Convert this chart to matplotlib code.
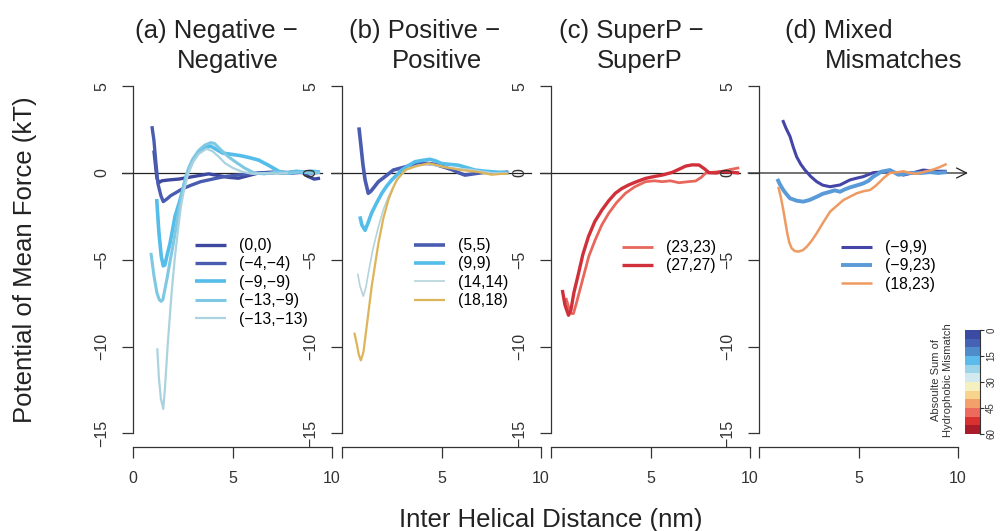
import numpy as np
import matplotlib
matplotlib.use("Agg")
import matplotlib.pyplot as plt
from matplotlib.colors import ListedColormap, BoundaryNorm

plt.rcParams['font.family'] = ['Liberation Sans', 'DejaVu Sans']

# ---------------- data ----------------
# (a) Negative - Negative
a_labels = ["(0,0)", "(\u22124,\u22124)", "(\u22129,\u22129)", "(\u221213,\u22129)", "(\u221213,\u221213)"]
a_colors = ["#3D49A0", "#4A5CB0", "#55BDE9", "#7EC8E3", "#ABD3DF"]
a_widths = [2.4, 2.4, 2.6, 2.2, 1.6]
a_00_x = [1.05, 1.2, 1.3, 1.45, 1.8, 2.3, 2.8, 3.3, 3.8, 4.3, 4.8, 5.3, 5.8, 6.3, 7.0, 7.5, 8.0, 8.5, 8.8, 9.1, 9.4]
a_00_y = [1.3, -0.3, -0.55, -0.45, -0.4, -0.35, -0.25, -0.15, -0.05, -0.15, -0.25, -0.3, -0.15, 0.0, 0.05, 0.0, 0.05, 0.05, -0.2, -0.35, -0.3]
a_44_x = [0.95, 1.05, 1.15, 1.25, 1.4, 1.52, 1.7, 1.9, 2.1, 2.5, 2.95, 3.4, 3.8, 4.2, 4.6, 5.0, 5.4, 5.8, 6.3, 7.0, 7.5, 8.0, 8.5, 9.0, 9.4]
a_44_y = [2.7, 1.9, 0.6, -0.6, -1.3, -1.65, -1.5, -1.3, -1.17, -0.9, -0.69, -0.5, -0.4, -0.3, -0.21, -0.15, -0.1, -0.05, 0.0, 0.0, 0.05, 0.0, 0.05, 0.0, 0.05]
a_99_x = [1.19, 1.3, 1.42, 1.52, 1.6, 1.72, 1.86, 2.0, 2.11, 2.3, 2.45, 2.7, 3.0, 3.3, 3.6, 3.9, 4.2, 4.5, 4.8, 5.1, 5.4, 5.8, 6.3, 6.8, 7.1, 7.4, 7.8, 8.2, 8.6, 9.0, 9.4]
a_99_y = [-1.5, -3.4, -4.8, -5.35, -5.3, -4.7, -4.05, -3.2, -2.5, -1.8, -1.2, -0.1, 0.7, 1.2, 1.45, 1.55, 1.35, 1.15, 1.1, 1.05, 1.0, 0.9, 0.75, 0.45, 0.25, 0.05, 0.0, 0.1, 0.05, 0.1, 0.05]
a_139_x = [0.9, 1.05, 1.2, 1.32, 1.41, 1.5, 1.69, 1.86, 2.03, 2.2, 2.36, 2.5, 2.61, 2.8, 3.0, 3.3, 3.6, 3.9, 4.1, 4.4, 4.79, 5.2, 5.63, 6.1, 6.6, 7.2, 7.8, 8.4, 9.0, 9.4]
a_139_y = [-4.6, -5.9, -6.9, -7.3, -7.4, -7.3, -6.2, -5.1, -4.05, -2.9, -1.75, -1.0, -0.4, 0.3, 0.8, 1.3, 1.6, 1.75, 1.7, 1.35, 0.94, 0.6, 0.27, 0.0, -0.05, 0.05, 0.0, 0.05, 0.0, 0.05]
a_1313_x = [1.22, 1.3, 1.4, 1.52, 1.6, 1.75, 1.94, 2.1, 2.28, 2.4, 2.53, 2.78, 3.0, 3.3, 3.7, 4.0, 4.3, 4.62, 5.0, 5.46, 6.0, 6.6, 7.2, 7.8]
a_1313_y = [-10.1, -11.8, -13.0, -13.6, -12.5, -9.8, -6.9, -4.9, -3.1, -2.0, -1.17, 0.0, 0.6, 1.1, 1.4, 1.25, 0.95, 0.57, 0.3, 0.08, -0.05, 0.0, -0.05, 0.0]

# (b) Positive - Positive
b_labels = ["(5,5)", "(9,9)", "(14,14)", "(18,18)"]
b_colors = ["#4A5CB0", "#55BDE9", "#B5D3DD", "#DDB45A"]
b_widths = [2.6, 2.6, 1.2, 1.6]
b_55_x = [0.85, 0.95, 1.05, 1.16, 1.32, 1.45, 1.57, 1.83, 2.16, 2.58, 3.17, 3.84, 4.3, 4.67, 5.1, 5.51, 5.9, 6.18, 6.6, 7.2, 7.8, 8.36]
b_55_y = [2.63, 1.6, 0.5, -0.4, -1.17, -1.05, -0.88, -0.5, -0.21, 0.17, 0.35, 0.56, 0.55, 0.5, 0.35, 0.2, 0.0, -0.12, -0.05, 0.05, 0.0, 0.05]
b_99_x = [0.9, 1.0, 1.16, 1.3, 1.49, 1.75, 2.0, 2.25, 2.5, 3.0, 3.3, 3.67, 4.0, 4.42, 4.7, 5.0, 5.4, 5.85, 6.3, 6.68, 7.2, 7.8, 8.36]
b_99_y = [-2.5, -3.0, -3.3, -2.9, -2.3, -1.7, -1.17, -0.75, -0.4, 0.17, 0.4, 0.65, 0.72, 0.79, 0.7, 0.55, 0.5, 0.45, 0.3, 0.17, 0.1, 0.05, 0.0]
b_1414_x = [0.79, 0.9, 1.07, 1.2, 1.32, 1.55, 1.83, 2.08, 2.33, 2.6, 2.83, 3.33, 3.8, 4.3, 4.8, 5.4, 6.0, 6.5, 7.0, 7.6, 8.3]
b_1414_y = [-5.8, -6.5, -7.1, -6.6, -5.8, -4.4, -3.1, -2.1, -1.37, -0.75, -0.3, 0.27, 0.45, 0.5, 0.4, 0.3, 0.25, 0.2, 0.1, 0.0, 0.0]
b_1818_x = [0.62, 0.75, 0.85, 0.95, 1.08, 1.24, 1.49, 1.83, 2.08, 2.33, 2.55, 2.75, 3.17, 3.67, 4.34, 4.8, 5.18, 5.6, 6.0, 6.85, 7.52, 8.0, 8.36]
b_1818_y = [-9.2, -9.9, -10.5, -10.8, -10.3, -8.85, -6.55, -4.05, -2.6, -1.55, -0.9, -0.4, 0.17, 0.37, 0.56, 0.45, 0.33, 0.25, 0.17, 0.06, -0.1, -0.05, -0.05]

# (c) SuperP - SuperP
c_labels = ["(23,23)", "(27,27)"]
c_colors = ["#E8675C", "#D0303A"]
c_widths = [2.0, 2.4]
c_2323_x = [0.75, 0.9, 1.02, 1.13, 1.3, 1.63, 1.9, 2.22, 2.55, 2.9, 3.3, 3.74, 4.2, 4.75, 5.2, 5.59, 6.0, 6.43, 6.9, 7.27, 7.55, 7.78, 8.2, 8.62, 9.0, 9.46]
c_2323_y = [-7.2, -7.8, -8.1, -8.1, -7.4, -5.97, -4.8, -3.86, -3.0, -2.32, -1.7, -1.17, -0.8, -0.5, -0.45, -0.5, -0.45, -0.56, -0.5, -0.46, -0.25, 0.0, 0.05, 0.1, 0.2, 0.3]
c_2727_x = [0.57, 0.7, 0.88, 1.0, 1.15, 1.38, 1.6, 1.88, 2.2, 2.56, 2.9, 3.23, 3.55, 3.9, 4.3, 4.75, 5.2, 5.59, 6.1, 6.4, 6.77, 7.1, 7.44, 7.7, 7.94, 8.3, 8.62, 9.0, 9.46]
c_2727_y = [-6.74, -7.6, -8.2, -7.9, -6.9, -5.8, -4.7, -3.67, -2.8, -2.13, -1.6, -1.17, -0.9, -0.69, -0.5, -0.31, -0.2, -0.12, 0.04, 0.2, 0.4, 0.47, 0.46, 0.25, 0.02, 0.0, 0.08, 0.05, 0.0]

# (d) Mixed mismatches
d_labels = ["(\u22129,9)", "(\u22129,23)", "(18,23)"]
d_colors = ["#4545A8", "#5A9AD6", "#EE9A62"]
d_widths = [2.2, 2.8, 1.8]
d_99_x = [1.19, 1.35, 1.56, 1.72, 1.89, 2.1, 2.31, 2.6, 2.9, 3.2, 3.57, 4.07, 4.57, 4.9, 5.24, 5.74, 6.1, 6.58, 7.0, 7.25, 7.7, 8.26, 8.8, 9.43]
d_99_y = [3.05, 2.6, 2.1, 1.5, 0.94, 0.5, 0.17, -0.2, -0.5, -0.7, -0.79, -0.69, -0.4, -0.3, -0.21, 0.02, 0.05, 0.1, 0.0, -0.12, 0.0, 0.17, 0.1, 0.1]
d_923_x = [0.92, 1.05, 1.22, 1.4, 1.56, 1.9, 2.23, 2.55, 2.9, 3.2, 3.57, 3.8, 4.07, 4.3, 4.57, 4.9, 5.24, 5.5, 5.74, 6.16, 6.58, 7.0, 7.58, 8.1, 8.6, 9.0, 9.43]
d_923_y = [-0.34, -0.65, -0.98, -1.25, -1.46, -1.6, -1.65, -1.55, -1.37, -1.2, -1.08, -1.0, -1.08, -0.95, -0.83, -0.72, -0.6, -0.45, -0.21, 0.08, 0.17, -0.1, 0.0, 0.0, 0.05, 0.0, 0.05]
d_1823_x = [0.97, 1.1, 1.22, 1.32, 1.42, 1.52, 1.64, 1.8, 1.98, 2.2, 2.4, 2.65, 2.9, 3.2, 3.57, 3.9, 4.24, 4.6, 4.91, 5.25, 5.58, 5.85, 6.08, 6.3, 6.58, 7.0, 7.25, 7.6, 7.92, 8.4, 8.76, 9.1, 9.43]
d_1823_y = [-0.79, -1.4, -2.13, -2.8, -3.47, -4.0, -4.34, -4.5, -4.53, -4.45, -4.25, -3.9, -3.47, -2.9, -2.23, -1.9, -1.56, -1.35, -1.17, -1.05, -0.98, -0.75, -0.5, -0.25, 0.0, 0.05, 0.1, 0.0, -0.05, 0.1, 0.2, 0.35, 0.52]

titles_1 = ["(a) Negative \u2212", "(b) Positive \u2212", "(c) SuperP \u2212", "(d) Mixed"]
titles_2 = ["Negative", "Positive", "SuperP", "Mismatches"]

# colour key: absolute sum of hydrophobic mismatch, 12 bins of 5
key_bounds = [0, 5, 10, 15, 20, 25, 30, 35, 40, 45, 50, 55, 60]
key_colors = ["#3B4BA3", "#4562B4", "#4E8CCB", "#5DBBEC", "#9DD4EA", "#D2E9F0",
              "#F4F0C0", "#F8D38C", "#F3A06A", "#EC6B5C", "#D9312F", "#A91A2A"]
key_ticks = [0, 15, 30, 45, 60]

panels = [
    (a_labels, a_colors, a_widths, [(a_00_x, a_00_y), (a_44_x, a_44_y), (a_99_x, a_99_y), (a_139_x, a_139_y), (a_1313_x, a_1313_y)]),
    (b_labels, b_colors, b_widths, [(b_55_x, b_55_y), (b_99_x, b_99_y), (b_1414_x, b_1414_y), (b_1818_x, b_1818_y)]),
    (c_labels, c_colors, c_widths, [(c_2323_x, c_2323_y), (c_2727_x, c_2727_y)]),
    (d_labels, d_colors, d_widths, [(d_99_x, d_99_y), (d_923_x, d_923_y), (d_1823_x, d_1823_y)]),
]

# ---------------- layout (pixels of a 1002x531 canvas) ----------------
W, H = 1002, 531
fig = plt.figure(figsize=(W / 100, H / 100), dpi=100)

def fx(px):
    return px / W

def fy(py):
    return 1 - py / H

zero_px = [133, 342, 551, 759]     # pixel x of data x=0 in each panel
title1_px = [216, 425, 631, 839]
title2_px = [228, 437, 640, 894]
legend_px = [(195, 238), (414, 238), (622, 240), (841, 240)]
sx = 19.9                          # px per x unit
sy = 17.35                         # px per y unit
XMIN, XMAX = -0.55, 10.05
YMIN, YMAX = -16.0, 5.5
y_top_px = 173 - YMAX * sy

axcol = "#333333"
for i, (labels, colors, widths, series) in enumerate(panels):
    left = zero_px[i] + XMIN * sx
    ax = fig.add_axes([fx(left), fy(y_top_px + (YMAX - YMIN) * sy),
                       (XMAX - XMIN) * sx / W, (YMAX - YMIN) * sy / H])
    ax.patch.set_alpha(0)
    ax.set_xlim(XMIN, XMAX)
    ax.set_ylim(YMIN, YMAX)

    for (x, y), c, lw, lab in zip(series, colors, widths, labels):
        ax.plot(x, y, color=c, lw=lw, label=lab, solid_capstyle='butt')

    if i < 3:
        ax.axhline(0, xmin=0, xmax=(9.5 - XMIN) / (XMAX - XMIN), color="#222222", lw=0.9, zorder=0)
    else:
        ax.annotate("", xy=(10.5, 0), xytext=(XMIN, 0), annotation_clip=False,
                    arrowprops=dict(arrowstyle="->", color="#222222", lw=0.9,
                                    mutation_scale=18, shrinkA=0, shrinkB=0), zorder=0)

    for s in ["top", "right"]:
        ax.spines[s].set_visible(False)
    ax.spines["left"].set_position(("data", 0))
    ax.spines["left"].set_bounds(-15, 5)
    ax.spines["bottom"].set_position(("data", -15.8))
    ax.spines["bottom"].set_bounds(0, 10)
    for s in ["left", "bottom"]:
        ax.spines[s].set_color(axcol)
        ax.spines[s].set_linewidth(0.9)

    ax.set_yticks([-15, -10, -5, 0, 5])
    ax.set_xticks([0, 5, 10])
    ax.set_xticklabels(["0" if i == 0 else "", "5", "10"])
    ax.tick_params(direction="out", length=7.9, width=0.9, colors=axcol,
                   labelcolor="#333333", labelsize=11.5)
    ax.tick_params(axis="x", pad=9)
    ax.tick_params(axis="y", pad=9, labelrotation=90)
    for t in ax.get_yticklabels():
        t.set_verticalalignment("center")

    lx, ly = legend_px[i]
    ax.legend(loc="upper left", bbox_to_anchor=(fx(lx), fy(ly)), bbox_transform=fig.transFigure,
              frameon=False, fontsize=11.3, handlelength=2.0, handletextpad=0.8,
              labelspacing=0.22, borderpad=0, borderaxespad=0)

    fig.text(fx(title1_px[i]), fy(38), titles_1[i], fontsize=18.5, ha="center", va="baseline", color="#222222")
    fig.text(fx(title2_px[i]), fy(68), titles_2[i], fontsize=18.5, ha="center", va="baseline", color="#222222")

fig.text(fx(25), fy(260), "Potential of Mean Force (kT)", rotation=90, fontsize=18.5,
         ha="center", va="center", color="#222222")
fig.text(fx(551), fy(527), "Inter Helical Distance (nm)", fontsize=18.5,
         ha="center", va="baseline", color="#222222")

# ---------------- colour key ----------------
cax = fig.add_axes([fx(965), fy(434), 15 / W, 104 / H])
cmap = ListedColormap(key_colors)
norm = BoundaryNorm(key_bounds, cmap.N)
vals = np.array([(key_bounds[k] + key_bounds[k + 1]) / 2 for k in range(len(key_colors))])
cax.pcolormesh([0, 1], key_bounds, vals[:, None], cmap=cmap, norm=norm)
cax.set_xlim(0, 1)
cax.set_ylim(60, 0)
cax.set_xticks([])
for s in ["top", "left", "bottom"]:
    cax.spines[s].set_visible(False)
cax.spines["right"].set_linewidth(0.8)
cax.spines["right"].set_color(axcol)
cax.yaxis.tick_right()
cax.set_yticks(key_ticks)
cax.tick_params(axis="y", length=3, width=0.8, colors=axcol, labelsize=7,
                labelrotation=90, pad=1.5, labelcolor="#333333")
for t in cax.get_yticklabels():
    t.set_verticalalignment("center")
fig.text(fx(942), fy(380), "Absoulte Sum of\nHydrophobic Mismatch", rotation=90,
         fontsize=8, ha="center", va="center", linespacing=1.2, color="#333333")

fig.savefig("out.png", dpi=100)
